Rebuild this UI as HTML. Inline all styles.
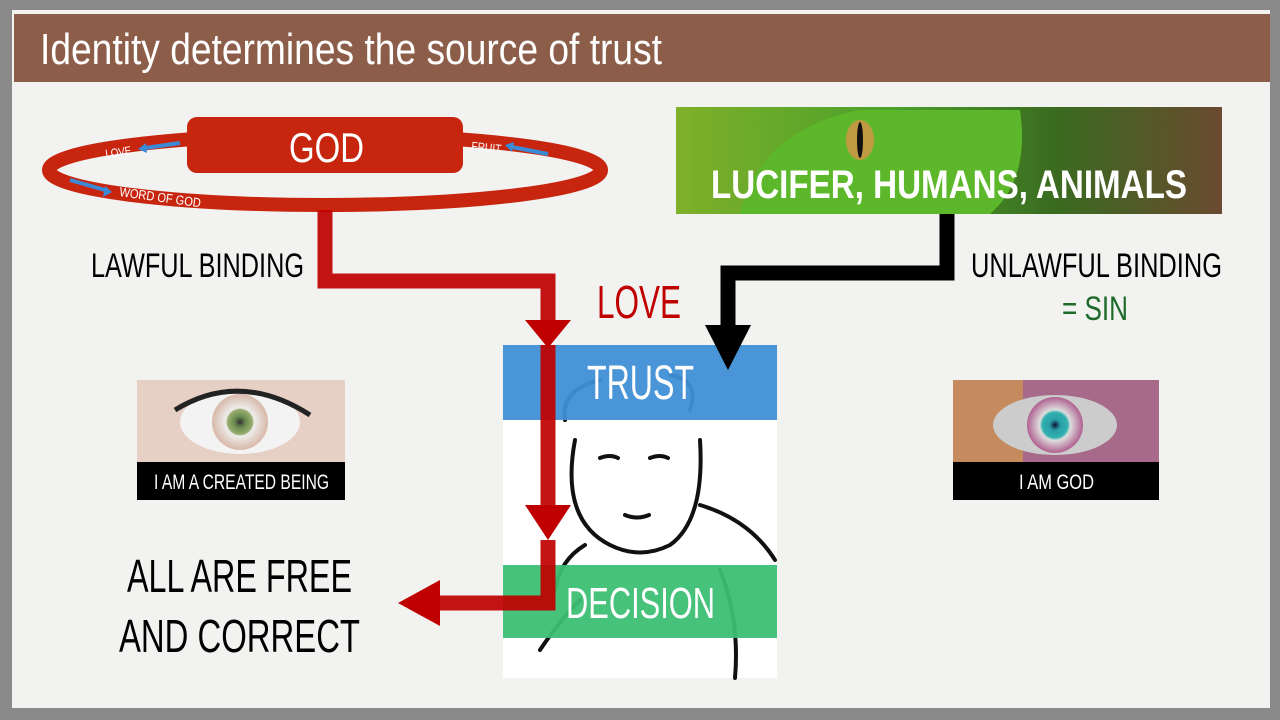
<!DOCTYPE html>
<html><head><meta charset="utf-8"><style>
body{margin:0;width:1280px;height:720px;overflow:hidden;background:#8a8a8a;font-family:"Liberation Sans",sans-serif}
.slide{position:absolute;left:12px;top:10px;width:1258px;height:698px;background:#f2f2f1}
svg text{font-family:"Liberation Sans",sans-serif}
</style></head><body>
<div class="slide"></div>
<div style="position:absolute;left:14px;top:14px;width:1256px;height:68px;background:#8c5e4a"></div>

<svg width="1280" height="720" style="position:absolute;left:0;top:0">
<defs>
<linearGradient id="sn" x1="0" x2="1"><stop offset="0" stop-color="#7fb02a"/><stop offset="0.4" stop-color="#4aa02a"/><stop offset="0.7" stop-color="#3a6a20"/><stop offset="1" stop-color="#6a4a30"/></linearGradient>
<radialGradient id="e1"><stop offset="0" stop-color="#333"/><stop offset="0.2" stop-color="#6a8a50"/><stop offset="0.45" stop-color="#9ab070"/><stop offset="0.5" stop-color="#eee"/><stop offset="1" stop-color="#d8b8a8"/></radialGradient>
<radialGradient id="e2"><stop offset="0" stop-color="#113"/><stop offset="0.2" stop-color="#2aa0a8"/><stop offset="0.45" stop-color="#30b0b0"/><stop offset="0.55" stop-color="#ddd"/><stop offset="1" stop-color="#b06090"/></radialGradient>
</defs>
<text x="40" y="64" font-size="44" fill="#fff" textLength="622" lengthAdjust="spacingAndGlyphs">Identity determines the source of trust</text>
<!-- ellipse -->
<ellipse cx="325" cy="170" rx="276" ry="35" fill="none" stroke="#c8250f" stroke-width="14"/>
<rect x="187" y="117" width="276" height="56" rx="10" fill="#c8250f"/>
<text x="289" y="162" font-size="42" fill="#fff" textLength="75" lengthAdjust="spacingAndGlyphs">GOD</text>
<text x="106" y="158" font-size="12" fill="#fff" textLength="26" lengthAdjust="spacingAndGlyphs" transform="rotate(-8 106 158)">LOVE</text>
<path d="M180 143 L145 148" stroke="#3a8ad8" stroke-width="4"/><path d="M138 149 l8 -6 l1 10z" fill="#3a8ad8"/>
<text x="471" y="150" font-size="12" fill="#fff" textLength="30" lengthAdjust="spacingAndGlyphs" transform="rotate(6 471 150)">FRUIT</text>
<path d="M512 147 L548 154" stroke="#3a8ad8" stroke-width="4"/><path d="M505 145 l9 -3 l-2 10z" fill="#3a8ad8"/>
<path d="M70 180 L105 190" stroke="#3a8ad8" stroke-width="4"/><path d="M112 192 l-9 5 l2 -11z" fill="#3a8ad8"/>
<text x="119" y="196" font-size="13" fill="#fff" textLength="82" lengthAdjust="spacingAndGlyphs" transform="rotate(8 119 196)">WORD OF GOD</text>

<!-- child box -->
<rect x="503" y="345" width="274" height="333" fill="#fff"/>
<g fill="none" stroke="#111" stroke-width="4" stroke-linecap="round">
<path d="M575 440 Q560 520 610 545 Q640 560 670 545 Q705 520 700 440"/>
<path d="M565 420 Q560 390 600 380 M690 410 Q700 380 670 375"/>
<path d="M600 458 q10 -4 18 0 M650 458 q10 -4 18 0"/>
<path d="M625 515 q12 5 24 0"/>
<path d="M700 505 Q750 520 775 560 M585 545 Q560 560 555 590"/>
<path d="M540 650 Q560 620 580 600 M720 570 Q740 620 735 678"/>
</g>
<rect x="503" y="345" width="274" height="75" fill="#3f8fd6" opacity="0.95"/>
<rect x="503" y="565" width="274" height="73" fill="#3dbf73" opacity="0.95"/>
<text x="587" y="399" font-size="48" fill="#fff" textLength="107" lengthAdjust="spacingAndGlyphs">TRUST</text>
<text x="566" y="618" font-size="44" fill="#fff" textLength="149" lengthAdjust="spacingAndGlyphs">DECISION</text>

<!-- red path -->
<path d="M325 210 V281 H548 V322 M548 345 V507 M548 540 V603 H440" fill="none" stroke="#c00000" stroke-width="15" opacity="0.92"/>
<path d="M525 320 h46 l-23 28z M525 505 h46 l-23 35z M440 580 v46 l-42 -23z" fill="#c00000"/>
<!-- black path -->
<path d="M947 214 V273 H728 V328" fill="none" stroke="#000" stroke-width="15"/>
<path d="M705 325 h46 l-23 45z" fill="#000"/>

<!-- snake -->
<rect x="676" y="107" width="546" height="107" fill="url(#sn)"/>
<path d="M740 214 Q760 130 860 110 L1020 110 Q1030 180 990 214z" fill="#5cb82a"/>
<ellipse cx="860" cy="140" rx="14" ry="20" fill="#c09a40"/><ellipse cx="860" cy="140" rx="3" ry="18" fill="#111"/>
<text x="711" y="198" font-size="40" font-weight="bold" fill="#fff" textLength="476" lengthAdjust="spacingAndGlyphs">LUCIFER, HUMANS, ANIMALS</text>

<!-- eyes -->
<rect x="137" y="380" width="208" height="82" fill="#e6cfc4"/>
<ellipse cx="240" cy="422" rx="60" ry="32" fill="#f3f3f3"/>
<circle cx="240" cy="422" r="28" fill="url(#e1)"/>
<path d="M175 410 Q240 370 310 415" stroke="#222" stroke-width="5" fill="none"/>
<rect x="137" y="462" width="208" height="38" fill="#000"/>
<text x="154" y="489" font-size="21" fill="#fff" textLength="175" lengthAdjust="spacingAndGlyphs">I AM A CREATED BEING</text>
<rect x="953" y="380" width="206" height="82" fill="#a86a8a"/>
<rect x="953" y="380" width="70" height="82" fill="#d8a040" opacity="0.6"/>
<ellipse cx="1055" cy="425" rx="62" ry="30" fill="#ccc"/>
<circle cx="1055" cy="425" r="28" fill="url(#e2)"/>
<rect x="953" y="462" width="206" height="38" fill="#000"/>
<text x="1019" y="489" font-size="21" fill="#fff" textLength="75" lengthAdjust="spacingAndGlyphs">I AM GOD</text>

<text x="91" y="277" font-size="34" fill="#000" textLength="213" lengthAdjust="spacingAndGlyphs">LAWFUL BINDING</text>
<text x="597" y="318" font-size="46" fill="#c00000" textLength="84" lengthAdjust="spacingAndGlyphs">LOVE</text>
<text x="971" y="277" font-size="34" fill="#000" textLength="251" lengthAdjust="spacingAndGlyphs">UNLAWFUL BINDING</text>
<text x="1062" y="320" font-size="34" fill="#1d6a2a" textLength="66" lengthAdjust="spacingAndGlyphs">= SIN</text>
<text x="127" y="592" font-size="46" fill="#000" textLength="225" lengthAdjust="spacingAndGlyphs">ALL ARE FREE</text>
<text x="119" y="652" font-size="46" fill="#000" textLength="241" lengthAdjust="spacingAndGlyphs">AND CORRECT</text>
</svg>
</body></html>
